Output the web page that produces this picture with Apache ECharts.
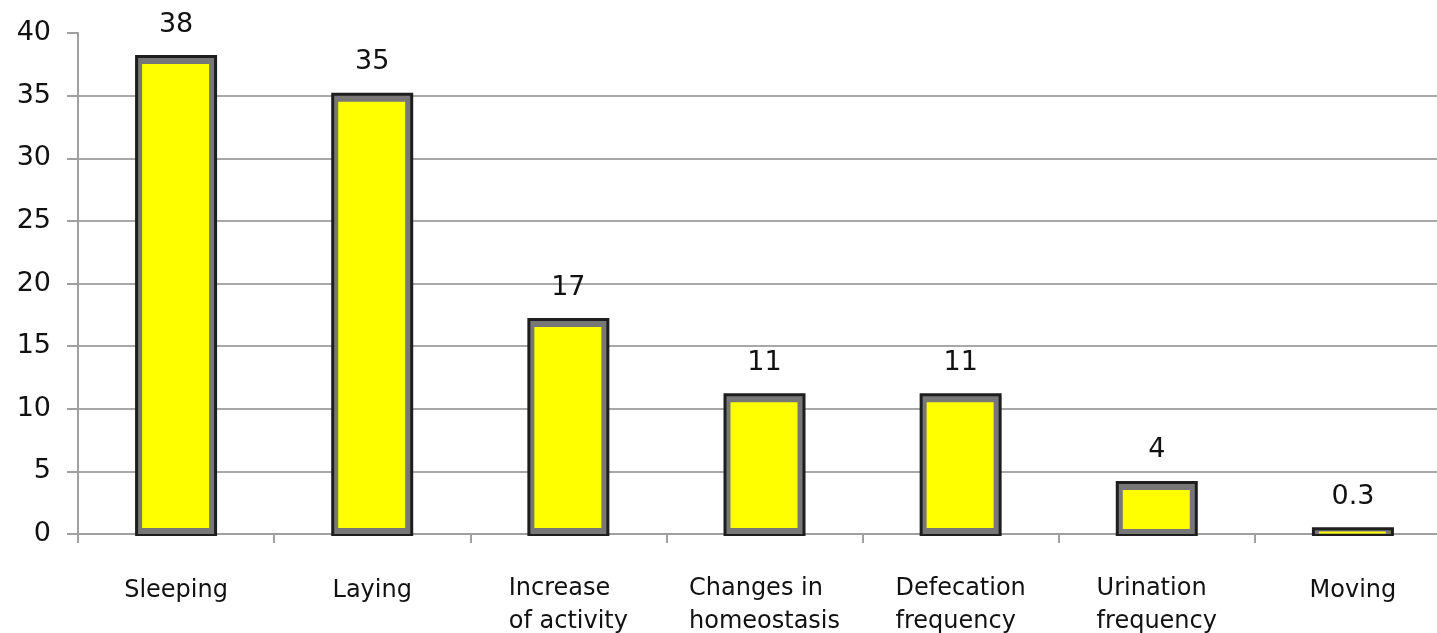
<!DOCTYPE html>
<html>
<head>
<meta charset="utf-8">
<script src="https://cdn.jsdelivr.net/npm/echarts@6/dist/echarts.min.js"></script>
<style>
html,body{margin:0;padding:0;background:#fff;}
#c{width:1437px;height:633px;}
</style>
</head>
<body>
<div id="c"></div>
<script>
const categories = ["Sleeping", "Laying", "Increase\nof activity", "Changes in\nhomeostasis", "Defecation\nfrequency", "Urination\nfrequency", "Moving"];
const values = [38, 35, 17, 11, 11, 4, 0.3];
const yTicks = [0, 5, 10, 15, 20, 25, 30, 35, 40];

function renderBar(params, api) {
  const idx = api.value(0);
  const top = api.coord([idx, api.value(1)]);
  const base = api.coord([idx, 0]);
  const cx = top[0];
  const half = 41;
  const oTop = top[1] - 3, oBot = base[1] + 2;
  const iTop = oTop + 3, iBot = oBot - 2;
  const ih = iBot - iTop;
  const pt = Math.min(6, ih * 0.35), pb = Math.min(6, ih * 0.1);
  return {
    type: 'group',
    children: [
      {type: 'rect', shape: {x: cx - half, y: oTop, width: half * 2, height: oBot - oTop}, style: {fill: '#1e1e1e'}},
      {type: 'rect', shape: {x: cx - half + 3, y: iTop, width: half * 2 - 6, height: ih}, style: {fill: '#777777'}},
      {type: 'rect', shape: {x: cx - 34, y: iTop + pt, width: 67, height: Math.max(ih - pt - pb, 1)}, style: {fill: '#ffff00'}}
    ]
  };
}

const labelFont = {fontFamily: 'DejaVu Sans', fontSize: 24, lineHeight: 33, color: '#111'};

const chart = echarts.init(document.getElementById('c'), null, {renderer: 'canvas'});
chart.setOption({
  animation: false,
  backgroundColor: '#ffffff',
  grid: {left: 78, width: 1373, top: 33, height: 501, containLabel: false, outerBoundsMode: 'none'},
  xAxis: {
    type: 'category',
    data: categories,
    axisLine: {lineStyle: {color: '#a0a0a0', width: 2}},
    axisTick: {show: true, length: 9, lineStyle: {color: '#a0a0a0', width: 2}},
    axisLabel: {
      interval: 0, margin: 38, color: '#111',
      fontFamily: 'DejaVu Sans', fontSize: 24, lineHeight: 33,
      formatter: function (v) {
        const lines = v.split('\n');
        if (lines.length === 1) return '{s|' + v + '}';
        return lines.map(s => '{l|' + s + '}').join('\n');
      },
      rich: {
        l: Object.assign({align: 'left'}, labelFont),
        s: Object.assign({align: 'center', padding: [5, 0, 0, 0]}, labelFont)
      }
    }
  },
  yAxis: {
    type: 'value',
    min: yTicks[0], max: yTicks[yTicks.length - 1], interval: 5,
    axisLine: {show: true, lineStyle: {color: '#a0a0a0', width: 2}},
    axisTick: {show: true, length: 11, lineStyle: {color: '#a0a0a0', width: 2}},
    axisLabel: {margin: 27, color: '#111', fontFamily: 'DejaVu Sans', fontSize: 27},
    splitLine: {show: true, showMaxLine: false, lineStyle: {color: '#a8a8a8', width: 2}}
  },
  series: [{
    type: 'custom',
    data: values.map((v, i) => [i, v]),
    encode: {x: 0, y: 1},
    renderItem: renderBar,
    z: 3
  }, {
    type: 'bar',
    data: values,
    barWidth: 82,
    z: 4,
    itemStyle: {color: 'rgba(0,0,0,0)'},
    label: {
      show: true, position: 'top', distance: 20,
      color: '#111', fontFamily: 'DejaVu Sans', fontSize: 27
    }
  }]
});
</script>
</body>
</html>
